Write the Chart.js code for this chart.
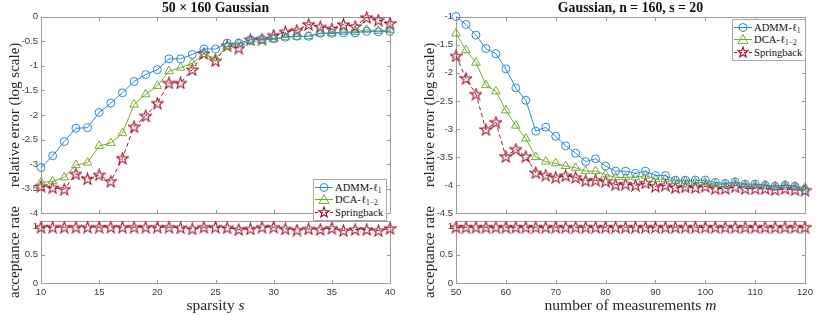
<!DOCTYPE html>
<html>
<head>
<meta charset="utf-8">
<script src="https://cdn.jsdelivr.net/npm/chart.js@4.4.0/dist/chart.umd.min.js"></script>
<style>
  body { margin: 0; background: #fff; }
  #wrap { position: relative; width: 830px; height: 315px; overflow: hidden; }
  .box { position: absolute; width: 415px; }
  .box canvas { display: block; }
  .xlabel { position: absolute; top: 296px; width: 349px; text-align: center;
            font: 15.5px 'Liberation Serif', serif; line-height: 18px; color: #262626; }
  .legend { position: absolute; background: #fff; border: 1px solid #a8a8a8;
            font: 10.6px 'Liberation Serif', serif; color: #111; padding: 1px 3px 1px 1px; }
  .legend .row { display: flex; align-items: center; height: 12.5px; white-space: nowrap; }
  .legend svg { margin-right: 2px; flex: none; }
  .legend sub { font-size: 7.5px; vertical-align: -2px; line-height: 0; }
</style>
</head>
<body>
<div id="wrap">
  <div class="box" style="left:0;top:0;height:222px"><canvas id="leftTop" width="415" height="222"></canvas></div>
  <div class="box" style="left:415px;top:0;height:222px"><canvas id="rightTop" width="415" height="222"></canvas></div>
  <div class="box" style="left:0;top:190px;height:125px"><canvas id="leftBot" width="415" height="125"></canvas></div>
  <div class="box" style="left:415px;top:190px;height:125px"><canvas id="rightBot" width="415" height="125"></canvas></div>
  <div class="xlabel" style="left:41px">sparsity <i>s</i></div>
  <div class="xlabel" style="left:456px">number of measurements <i>m</i></div>
  <div class="legend" id="legLeft" style="left:313px;top:179px"></div>
  <div class="legend" id="legRight" style="left:732px;top:19px"></div>
</div>
<script>
// ---- data: left panel (50 x 160 Gaussian) ----
const sparsity = [10, 11, 12, 13, 14, 15, 16, 17, 18, 19, 20, 21, 22, 23, 24, 25,
  26, 27, 28, 29, 30, 31, 32, 33, 34, 35, 36, 37, 38, 39, 40];
const admmLeft = [-3.07, -2.83, -2.54, -2.27, -2.26, -1.95, -1.76, -1.55, -1.32, -1.18, -1.08,
  -0.86, -0.86, -0.77, -0.66, -0.66, -0.54, -0.54, -0.47, -0.46, -0.45, -0.42, -0.40, -0.40,
  -0.34, -0.34, -0.33, -0.33, -0.30, -0.31, -0.30];
const dcaLeft = [-3.37, -3.35, -3.27, -3.02, -2.97, -2.63, -2.57, -2.37, -1.79, -1.58, -1.41,
  -1.11, -1.04, -0.95, -0.76, -0.85, -0.60, -0.55, -0.52, -0.48, -0.46, -0.42, -0.41, -0.40,
  -0.34, -0.34, -0.31, -0.31, -0.27, -0.29, -0.27];
const springLeft = [-3.45, -3.48, -3.51, -3.20, -3.30, -3.22, -3.35, -2.88, -2.24, -2.02, -1.76,
  -1.35, -1.35, -1.08, -0.75, -0.90, -0.59, -0.64, -0.47, -0.46, -0.38, -0.31, -0.28, -0.16,
  -0.21, -0.25, -0.16, -0.20, -0.02, -0.07, -0.14];
const acceptLeft = [0.99, 0.99, 0.99, 0.99, 0.99, 0.99, 0.99, 0.99, 0.99, 0.99, 0.99, 0.99,
  0.98, 0.96, 0.99, 0.99, 0.98, 0.95, 0.96, 0.99, 0.99, 0.96, 0.94, 0.96, 0.95, 0.97, 0.93,
  0.95, 0.95, 0.93, 0.97];

// ---- data: right panel (Gaussian, n = 160, s = 20) ----
const measurements = [50, 52, 54, 56, 58, 60, 62, 64, 66, 68, 70, 72, 74, 76, 78, 80, 82, 84,
  86, 88, 90, 92, 94, 96, 98, 100, 102, 104, 106, 108, 110, 112, 114, 116, 118, 120];
const admmRight = [-1.00, -1.14, -1.33, -1.57, -1.66, -1.93, -2.27, -2.49, -3.04, -2.97, -3.13,
  -3.30, -3.43, -3.58, -3.53, -3.66, -3.75, -3.75, -3.79, -3.75, -3.83, -3.83, -3.91, -3.91,
  -3.91, -3.91, -3.95, -3.97, -3.94, -3.98, -3.98, -4.00, -4.02, -4.00, -4.02, -4.09];
const dcaRight = [-1.30, -1.60, -1.82, -2.22, -2.33, -2.67, -2.94, -3.17, -3.50, -3.58, -3.61,
  -3.66, -3.69, -3.75, -3.75, -3.81, -3.86, -3.86, -3.86, -3.83, -3.89, -3.89, -3.93, -3.93,
  -3.95, -3.95, -3.98, -3.99, -3.96, -4.00, -4.00, -4.00, -4.02, -4.00, -4.02, -4.04];
const springRight = [-1.70, -2.10, -2.38, -3.01, -2.88, -3.49, -3.36, -3.49, -3.78, -3.82, -3.86,
  -3.83, -3.86, -3.92, -3.91, -3.93, -3.99, -3.98, -4.00, -3.96, -4.02, -4.00, -4.04, -4.03,
  -4.04, -4.02, -4.06, -4.06, -4.03, -4.06, -4.06, -4.06, -4.08, -4.06, -4.08, -4.09];
const acceptRight = [0.99, 0.99, 0.99, 0.99, 0.99, 0.99, 0.99, 0.99, 0.99, 0.99, 0.99, 0.99,
  0.99, 0.99, 0.99, 0.99, 0.99, 0.99, 0.99, 0.99, 0.99, 0.99, 0.99, 0.99, 0.99, 0.99, 0.99,
  0.99, 0.99, 0.99, 0.99, 0.99, 0.99, 0.99, 0.99, 0.99];

const acceptTicks = [0, 0.5, 1];

const BLUE = '#2a88d8';
const GREEN = '#77ac30';
const RED = '#a2142f';
const AXIS = '#9c9c9c';
const TICK_TEXT = '#3a3a3a';
const SERIF = "'Liberation Serif', serif";
const SANS = "'Liberation Sans', Arial, sans-serif";
const tickFont = { family: SANS, size: 9.5 };
const noGrid = { display: false, drawTicks: false };

function starPoints(cx, cy, ro, ri) {
  const pts = [];
  for (let k = 0; k < 10; k++) {
    const r = k % 2 ? ri : ro;
    const a = -Math.PI / 2 + k * Math.PI / 5;
    pts.push([cx + r * Math.cos(a), cy + r * Math.sin(a)]);
  }
  return pts;
}

// pentagram marker for Springback
const starImg = document.createElement('canvas');
starImg.width = 13;
starImg.height = 13;
(() => {
  const c = starImg.getContext('2d');
  c.strokeStyle = RED;
  c.lineWidth = 1.1;
  c.beginPath();
  starPoints(6.5, 7, 6, 2.4).forEach(([x, y], i) => (i ? c.lineTo(x, y) : c.moveTo(x, y)));
  c.closePath();
  c.stroke();
})();

const fmt = v => String(+v.toFixed(2));

// box + inward ticks like MATLAB axes
const framePlugin = {
  id: 'frame',
  beforeDatasetsDraw(chart) {
    const { ctx, chartArea, scales } = chart;
    const xs = scales.x, ys = scales.y;
    const L = 3.5;
    const top = Math.round(chartArea.top) + 0.5;
    const bot = Math.round(chartArea.bottom) + 0.5;
    const left = Math.round(chartArea.left) + 0.5;
    const right = Math.round(chartArea.right) + 0.5;
    ctx.save();
    ctx.strokeStyle = AXIS;
    ctx.lineWidth = 1;
    ctx.strokeRect(left, top, right - left, bot - top);
    ctx.beginPath();
    ys.ticks.forEach(t => {
      const py = Math.round(ys.getPixelForValue(t.value)) + 0.5;
      ctx.moveTo(left, py); ctx.lineTo(left + L, py);
      ctx.moveTo(right, py); ctx.lineTo(right - L, py);
    });
    xs.ticks.forEach(t => {
      const px = Math.round(xs.getPixelForValue(t.value)) + 0.5;
      ctx.moveTo(px, top); ctx.lineTo(px, top + L);
      ctx.moveTo(px, bot); ctx.lineTo(px, bot - L);
    });
    ctx.stroke();
    ctx.restore();
  }
};

function pts(xs, ys) {
  return xs.map((x, i) => ({ x: x, y: ys[i] }));
}

const axisTitle = text => ({
  display: true, text: text, color: '#262626',
  font: { family: SERIF, size: 15 }, padding: { top: 6.5, bottom: 0 },
});

const lineStyles = {
  admm: { borderColor: BLUE, borderWidth: 1, pointStyle: 'circle', pointRadius: 4,
          pointBorderColor: BLUE, pointBackgroundColor: 'rgba(0,0,0,0)', pointBorderWidth: 1, clip: false },
  dca: { borderColor: GREEN, borderWidth: 1, pointStyle: 'triangle', pointRadius: 5,
         pointBorderColor: GREEN, pointBackgroundColor: 'rgba(0,0,0,0)', pointBorderWidth: 1, clip: false },
  spring: { borderColor: RED, borderWidth: 1, borderDash: [4, 3], pointStyle: starImg, clip: false },
};

// relative error sub-plot
function makeErrorChart(canvasId, cfg) {
  return new Chart(document.getElementById(canvasId), {
    type: 'line',
    data: {
      datasets: [
        { label: 'ADMM', data: pts(cfg.x, cfg.admm), ...lineStyles.admm },
        { label: 'DCA', data: pts(cfg.x, cfg.dca), ...lineStyles.dca },
        { label: 'Springback', data: pts(cfg.x, cfg.spring), ...lineStyles.spring },
      ],
    },
    options: {
      responsive: false,
      animation: false,
      layout: { padding: { left: 0, right: 25, top: 0, bottom: 1 } },
      plugins: {
        legend: { display: false },
        tooltip: { enabled: false },
        title: {
          display: true, text: cfg.title, fullSize: false, color: '#111',
          font: { family: SERIF, size: 13.8, weight: 'bold' },
          padding: { top: 0, bottom: 0 },
        },
      },
      scales: {
        x: {
          type: 'linear', min: cfg.xmin, max: cfg.xmax,
          grid: noGrid, border: { display: false },
          ticks: { stepSize: cfg.xstep, display: false },
          afterFit: s => { s.height = 0; },
        },
        y: {
          type: 'linear', min: cfg.ymin, max: cfg.ymax,
          grid: noGrid, border: { display: false },
          ticks: { stepSize: 0.5, font: tickFont, color: TICK_TEXT, padding: 3, callback: fmt,
                   autoSkip: false },
          title: axisTitle('relative error (log scale)'),
          afterFit: s => { s.width = 41; },
        },
      },
    },
    plugins: [framePlugin],
  });
}

// acceptance rate sub-plot
function makeAcceptChart(canvasId, cfg) {
  return new Chart(document.getElementById(canvasId), {
    type: 'line',
    data: {
      datasets: [
        { label: 'Springback', data: pts(cfg.x, cfg.accept), ...lineStyles.spring },
      ],
    },
    options: {
      responsive: false,
      animation: false,
      layout: { padding: { left: 0, right: 25, top: 31, bottom: 0 } },
      plugins: { legend: { display: false }, tooltip: { enabled: false } },
      scales: {
        x: {
          type: 'linear', min: cfg.xmin, max: cfg.xmax,
          grid: noGrid, border: { display: false },
          ticks: { stepSize: cfg.xstep, font: tickFont, color: TICK_TEXT, padding: 4,
                   maxRotation: 0, autoSkip: false },
          afterFit: s => { s.height = 32; },
        },
        y: {
          type: 'linear', min: 0, max: 1.1,
          grid: noGrid, border: { display: false },
          afterBuildTicks: s => { s.ticks = acceptTicks.map(v => ({ value: v })); },
          ticks: { font: tickFont, color: TICK_TEXT, padding: 3, callback: fmt, autoSkip: false },
          title: axisTitle('acceptance rate'),
          afterFit: s => { s.width = 41; },
        },
      },
    },
    plugins: [framePlugin],
  });
}

const leftCfg = {
  title: '50 \u00d7 160 Gaussian', x: sparsity, admm: admmLeft, dca: dcaLeft,
  spring: springLeft, accept: acceptLeft, xmin: 10, xmax: 40, xstep: 5, ymin: -4, ymax: 0,
};
const rightCfg = {
  title: 'Gaussian, n = 160, s = 20', x: measurements, admm: admmRight, dca: dcaRight,
  spring: springRight, accept: acceptRight, xmin: 50, xmax: 120, xstep: 10, ymin: -4.5, ymax: -1,
};
makeErrorChart('leftTop', leftCfg);
makeAcceptChart('leftBot', leftCfg);
makeErrorChart('rightTop', rightCfg);
makeAcceptChart('rightBot', rightCfg);

// legends
function legendHtml() {
  const star = starPoints(9, 6.5, 5.5, 2.2).map(p => p.join(',')).join(' ');
  const rows = [
    [`<line x1="0" y1="6.5" x2="18" y2="6.5" stroke="${BLUE}"/><circle cx="9" cy="6.5" r="4" fill="none" stroke="${BLUE}"/>`,
     'ADMM-\u2113<sub>1</sub>'],
    [`<line x1="0" y1="6.5" x2="18" y2="6.5" stroke="${GREEN}"/><polygon points="9,1.5 14,10.5 4,10.5" fill="none" stroke="${GREEN}"/>`,
     'DCA-\u2113<sub>1\u22122</sub>'],
    [`<line x1="0" y1="6.5" x2="18" y2="6.5" stroke="${RED}" stroke-dasharray="3,2"/><polygon points="${star}" fill="none" stroke="${RED}" stroke-width="1.1"/>`,
     'Springback'],
  ];
  return rows.map(([svg, txt]) =>
    `<div class="row"><svg width="18" height="13">${svg}</svg><span>${txt}</span></div>`).join('');
}
document.getElementById('legLeft').innerHTML = legendHtml();
document.getElementById('legRight').innerHTML = legendHtml();
</script>
</body>
</html>
